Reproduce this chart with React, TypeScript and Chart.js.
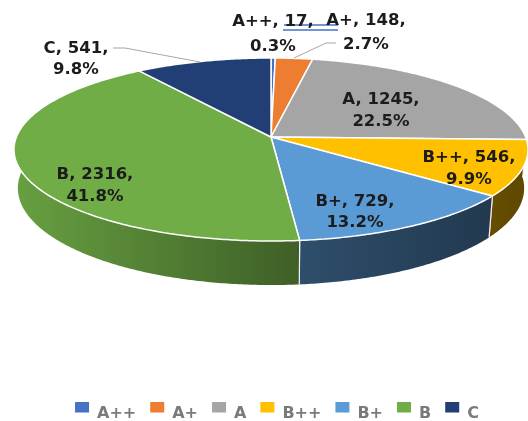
import React, { useEffect, useRef } from "react";
import { Chart, registerables } from "chart.js";

Chart.register(...registerables);

const categories = ["A++", "A+", "A", "B++", "B+", "B", "C"];
const counts = [17, 148, 1245, 546, 729, 2316, 541];
const colors = ["#4472c4", "#ed7d31", "#a5a5a5", "#ffc000", "#5b9bd5", "#70ad47", "#213f75"];
const wallShades = [[0.5, 0.5], [0.5, 0.5], [0.5, 0.5], [0.4, 0.37], [0.5, 0.37], [0.92, 0.55], [0.5, 0.5]];
// Centre of each two-line data label
const labelSpots: [number, number, number, number][] = [
  [273, 22, 273, 47],
  [366, 21, 366, 45],
  [381, 100, 381, 122],
  [469, 158, 469, 180],
  [355, 202, 355, 223],
  [95, 175, 95, 197],
  [76, 49, 76, 70],
];

const FONT = '"DejaVu Sans", sans-serif';
const CX = 271, CY = 137, B = 254.6, A = 89.8, P = 0.1366, DEPTH = 38, SHRINK = 0.985;

function top(angle: number, r = 1) {
  const u = Math.cos(angle) * r, v = Math.sin(angle) * r, k = 1 / (1 - P * v);
  return [CX + B * u * k, CY + A * v * k];
}
function bottom(angle: number) {
  const v = Math.sin(angle), k = 1 / (1 - P * v);
  const [x, y] = top(angle);
  return [CX + (x - CX) * SHRINK, y + DEPTH * k];
}
function shade(hex: string, f: number) {
  const n = parseInt(hex.slice(1), 16);
  return `rgb(${Math.round((n >> 16) * f)},${Math.round(((n >> 8) & 255) * f)},${Math.round((n & 255) * f)})`;
}
function sweep(a0: number, a1: number) {
  const n = Math.max(2, Math.ceil(Math.abs(a1 - a0) / 0.01));
  const out: number[] = [];
  for (let i = 0; i <= n; i++) out.push(a0 + ((a1 - a0) * i) / n);
  return out;
}

const piePlugin = {
  id: "pie3d",
  beforeDatasetsDraw(chart: any) {
    const ctx = chart.ctx as CanvasRenderingContext2D;
    const arcs = chart.getDatasetMeta(0).data as any[];
    const total = counts.reduce((s, c) => s + c, 0);
    ctx.save();
    // walls of the front half
    arcs.forEach((arc, i) => {
      const { startAngle, endAngle } = arc.getProps(["startAngle", "endAngle"], true);
      const a0 = Math.max(startAngle, 0.02), a1 = Math.min(endAngle, Math.PI + 0.05);
      if (a1 <= a0) return;
      const ts = sweep(a0, a1);
      const [xa] = top(a0), [xb] = top(a1);
      const g = ctx.createLinearGradient(Math.min(xa, xb), 0, Math.max(xa, xb), 0);
      g.addColorStop(0, shade(colors[i], wallShades[i][0]));
      g.addColorStop(1, shade(colors[i], wallShades[i][1]));
      ctx.beginPath();
      ts.forEach((t, j) => {
        const [x, y] = top(t);
        j ? ctx.lineTo(x, y) : ctx.moveTo(x, y);
      });
      [...ts].reverse().forEach((t) => {
        const [x, y] = bottom(t);
        ctx.lineTo(x, y);
      });
      ctx.closePath();
      ctx.fillStyle = g;
      ctx.fill();
      [a0, a1].forEach((t) => {
        if (t <= 0.02 || t >= Math.PI) return;
        const [x, y] = top(t), [xe, ye] = bottom(t);
        ctx.beginPath();
        ctx.moveTo(x, y);
        ctx.lineTo(xe, ye);
        ctx.strokeStyle = "rgba(255,255,255,0.85)";
        ctx.lineWidth = 1.2;
        ctx.stroke();
      });
    });
    // top faces
    arcs.forEach((arc, i) => {
      const { startAngle, endAngle } = arc.getProps(["startAngle", "endAngle"], true);
      ctx.beginPath();
      ctx.moveTo(CX, CY);
      sweep(startAngle, endAngle).forEach((t) => {
        const [x, y] = top(t);
        ctx.lineTo(x, y);
      });
      ctx.closePath();
      ctx.fillStyle = colors[i];
      ctx.fill();
      ctx.strokeStyle = "#ffffff";
      ctx.lineWidth = 1.5;
      ctx.lineJoin = "round";
      ctx.stroke();
    });
    // leader lines
    ctx.strokeStyle = "#a6a6a6";
    ctx.lineWidth = 1;
    ctx.beginPath();
    ctx.moveTo(113, 48);
    ctx.lineTo(125, 48);
    ctx.lineTo(200, 62);
    ctx.moveTo(336, 43);
    ctx.lineTo(326, 43);
    ctx.lineTo(294, 58);
    ctx.stroke();
    // proofing underline below the first label
    ctx.strokeStyle = "#4472c4";
    ctx.lineWidth = 1.4;
    ctx.beginPath();
    ctx.moveTo(284, 25);
    ctx.lineTo(338, 25);
    ctx.moveTo(283, 30);
    ctx.lineTo(338, 30);
    ctx.stroke();
    // data labels
    ctx.fillStyle = "#1c1c1c";
    ctx.font = `bold 16.5px ${FONT}`;
    ctx.textAlign = "center";
    ctx.textBaseline = "middle";
    categories.forEach((c, i) => {
      const [x1, y1, x2, y2] = labelSpots[i];
      ctx.fillText(`${c}, ${counts[i]},`, x1, y1);
      ctx.fillText(`${((counts[i] / total) * 100).toFixed(1)}%`, x2, y2);
    });
    ctx.restore();
    return false;
  },
  afterDraw(chart: any) {
    const ctx = chart.ctx as CanvasRenderingContext2D;
    const boxes = chart.legend?.legendHitBoxes ?? [];
    ctx.save();
    boxes.forEach((h: any, i: number) => {
      ctx.fillStyle = colors[i];
      ctx.fillRect(h.left, h.top + h.height / 2 - 12, 14, 10.5);
    });
    ctx.restore();
  },
};

export default function App() {
  const ref = useRef<HTMLCanvasElement>(null);
  useEffect(() => {
    const chart = new Chart(ref.current!, {
      type: "pie",
      data: {
        labels: categories,
        datasets: [{ data: counts, backgroundColor: colors, borderWidth: 0 }],
      },
      options: {
        responsive: false,
        animation: false,
        layout: { padding: { left: 26, bottom: -11 } },
        plugins: {
          tooltip: { enabled: false },
          legend: {
            position: "bottom",
            labels: {
              boxWidth: 14,
              boxHeight: 10,
              padding: 14,
              color: "#7a7a7a",
              font: { family: FONT, size: 16, weight: "bold" },
              generateLabels: () =>
                categories.map((c, i) => ({
                  text: c,
                  index: i,
                  fillStyle: "rgba(0,0,0,0)",
                  strokeStyle: "rgba(0,0,0,0)",
                  lineWidth: 0,
                  fontColor: "#7a7a7a",
                })),
            },
          },
        },
      },
      plugins: [piePlugin],
    } as any);
    return () => chart.destroy();
  }, []);
  return (
    <div style={{ position: "fixed", left: 0, top: 0, width: 528, height: 421, background: "#fff" }}>
      <canvas ref={ref} width={528} height={421} style={{ display: "block", filter: "blur(0.6px)" }} />
    </div>
  );
}
